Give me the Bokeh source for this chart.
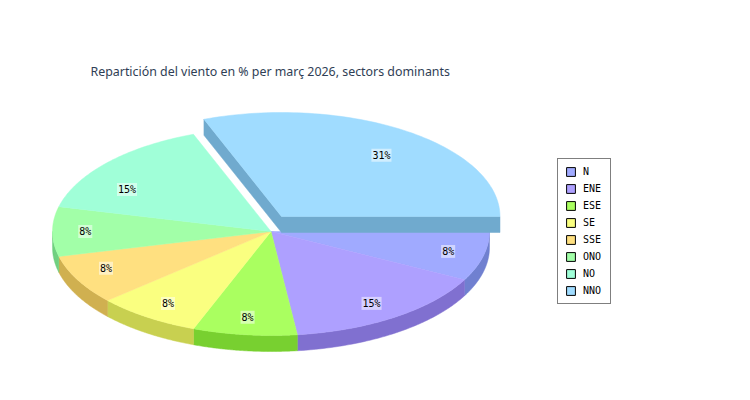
import numpy as np
from bokeh.core.properties import value
from bokeh.embed import file_html
from bokeh.models import ColumnDataSource, Legend, LegendItem, Range1d
from bokeh.plotting import figure
from bokeh.resources import INLINE

# data
sectors = ["N", "ENE", "ESE", "SE", "SSE", "ONO", "NO", "NNO"]
percent = [7.69, 15.38, 7.69, 7.69, 7.69, 7.69, 15.38, 30.77]
title_text = "Repartición del viento en % per març 2026, sectors dominants"

# colours
top_colors = ["#A0AAFF", "#AEA0FF", "#AAFF60", "#FAFF80", "#FFE080", "#A2FFA8", "#A0FFD8", "#A0DCFF"]
side_colors = ["#7080D0", "#8070D0", "#78D030", "#C8D050", "#D0B050", "#70D080", "#70D0A8", "#70AACE"]

# layout (page pixels)
CX, CY, RX, RY, DEPTH = 270.5, 231.0, 218.5, 104.0, 16.0
EX, EY = 281.0, 216.0
LABEL_KX = [0.835, 0.81, 0.89, 0.83, 0.853, 0.85, 0.88, 0.89]
LABEL_KY = [0.80, 0.84, 0.83, 0.84, 0.76, 0.85, 0.61, 0.89]

W, H = 734, 384
FRAME_TOP = 80
p = figure(width=W, height=H, output_backend="svg", toolbar_location=None,
           x_range=Range1d(0, W), y_range=Range1d(H, FRAME_TOP),
           min_border_left=0, min_border_right=0, min_border_bottom=0,
           min_border_top=FRAME_TOP, outline_line_color=None,
           background_fill_color="white", border_fill_color="white")
p.xaxis.visible = False
p.yaxis.visible = False
p.grid.visible = False

p.title.text = title_text
p.title.align = "left"
p.title.offset = 90
p.title.text_font = "Noto Sans"
p.title.text_font_size = "12.4px"
p.title.text_font_style = "normal"
p.title.text_color = "#2F3E55"
p.title.standoff = 1


def arc(a, b, cx, cy, n=80):
    t = np.radians(np.linspace(a, b, n))
    return cx + RX * np.cos(t), cy + RY * np.sin(t)


edges = np.concatenate([[0], np.cumsum(percent)]) / np.sum(percent) * 360
last = len(sectors) - 1

# side walls of the pie body
for i in range(last):
    a, b = edges[i], min(edges[i + 1], 180)
    if a >= 180:
        continue
    x, y = arc(a, b, CX, CY)
    p.patch(np.r_[x, x[::-1]], np.r_[y, y[::-1] + DEPTH], fill_color=side_colors[i], line_color=side_colors[i], line_width=0.5)

# tops of the pie body
for i in range(last):
    x, y = arc(edges[i], edges[i + 1], CX, CY)
    p.patch(np.r_[CX, x], np.r_[CY, y], fill_color=top_colors[i], line_color=top_colors[i], line_width=0.5)

# exploded slice
x, y = arc(edges[last], edges[last + 1], EX, EY)
wall_x = [x[0], EX, x[-1], x[-1], EX, x[0]]
wall_y = [y[0], EY, y[-1], y[-1] + DEPTH, EY + DEPTH, y[0] + DEPTH]
p.patch(wall_x, wall_y, fill_color=side_colors[last], line_color=side_colors[last], line_width=0.5)
p.patch(np.r_[EX, x], np.r_[EY, y], fill_color=top_colors[last], line_color=top_colors[last], line_width=0.5)

# percent labels
mid = np.radians((edges[:-1] + edges[1:]) / 2)
src = ColumnDataSource(dict(
    x=CX + RX * np.array(LABEL_KX) * np.cos(mid),
    y=CY + RY * np.array(LABEL_KY) * np.sin(mid),
    t=[f"{round(v)}%" for v in percent],
))
p.text("x", "y", text="t", source=src, text_font=value("DejaVu Sans Mono"), text_font_size="10px",
       text_color="black", text_align="center", text_baseline="middle",
       background_fill_color="white", background_fill_alpha=0.5, padding=1)

# legend, with hidden swatch renderers so the outline stays on the legend only
items = []
for name, col in zip(sectors, top_colors):
    r = p.patch(x=[np.nan], y=[np.nan], fill_color=col, line_color="black", line_width=1)
    items.append(LegendItem(label=value(name), renderers=[r]))
legend = Legend(items=items, location=(557, 80), orientation="vertical",
                background_fill_color="white", background_fill_alpha=1,
                border_line_color="black", border_line_width=1,
                glyph_width=11, glyph_height=11, label_height=11, label_standoff=7,
                label_text_font="DejaVu Sans Mono", label_text_font_size="10px",
                label_text_color="black", spacing=6, padding=7, margin=0)
p.add_layout(legend, "center")

open("out.html", "w").write(file_html(p, INLINE))
